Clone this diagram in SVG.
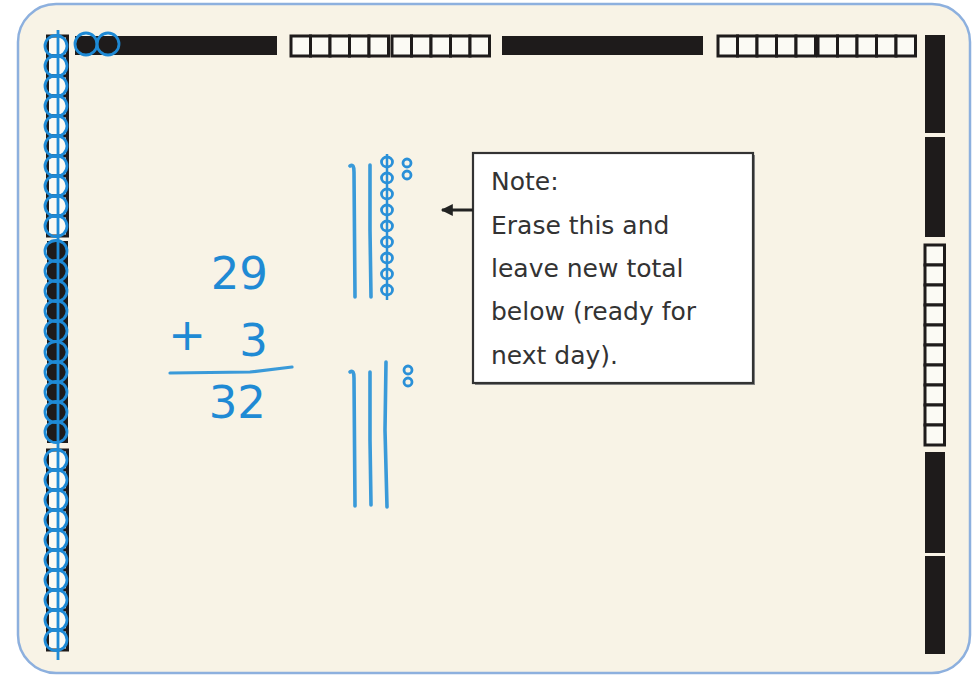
<svg xmlns="http://www.w3.org/2000/svg" xmlns:xlink="http://www.w3.org/1999/xlink" width="978" height="678" viewBox="0 0 978 678">
<style>
.frame{fill:#f8f3e6;stroke:#8db0de;stroke-width:2.5}
.blk{fill:#1e1b1b}
.wsq{fill:#fbfaf4;stroke:#1e1b1b;stroke-width:3}
.bc{fill:none;stroke:#1e8ad6;stroke-width:2.8}
.tally{fill:none;stroke:#3a9ad9;stroke-width:3.6;stroke-linecap:round}
.bead{fill:none;stroke:#2a90d8;stroke-width:2.8}
.num{font-family:"DejaVu Sans",sans-serif;fill:#1f8ad4;font-size:45px}
.note{font-family:"DejaVu Sans",sans-serif;fill:#333;font-size:25px}
</style>
<defs>
<ellipse id="c" rx="11" ry="10.5"/>
<marker id="ah" viewBox="0 0 10 10" refX="9" refY="5" markerWidth="13" markerHeight="12" markerUnits="userSpaceOnUse" orient="auto">
<path d="M0,0 L10,5 L0,10 Z" fill="#222"/>
</marker>
</defs>
<rect width="978" height="678" fill="#ffffff"/>
<rect id="board" class="frame" x="18" y="4" width="952" height="669" rx="38" ry="38"/>

<g id="top-strip">
<rect class="blk" x="75" y="36" width="202" height="19"/>
<rect class="wsq" x="291" y="36" width="19.5" height="20"/>
<rect class="wsq" x="310.5" y="36" width="19.5" height="20"/>
<rect class="wsq" x="330" y="36" width="19.5" height="20"/>
<rect class="wsq" x="349.5" y="36" width="19.5" height="20"/>
<rect class="wsq" x="369" y="36" width="19.5" height="20"/>
<rect class="wsq" x="392" y="36" width="19.5" height="20"/>
<rect class="wsq" x="411.5" y="36" width="19.5" height="20"/>
<rect class="wsq" x="431" y="36" width="19.5" height="20"/>
<rect class="wsq" x="450.5" y="36" width="19.5" height="20"/>
<rect class="wsq" x="470" y="36" width="19.5" height="20"/>
<rect class="blk" x="502" y="36" width="201" height="19"/>
<rect class="wsq" x="718" y="36" width="19.5" height="20"/>
<rect class="wsq" x="737.5" y="36" width="19.5" height="20"/>
<rect class="wsq" x="757" y="36" width="19.5" height="20"/>
<rect class="wsq" x="776.5" y="36" width="19.5" height="20"/>
<rect class="wsq" x="796" y="36" width="19.5" height="20"/>
<rect class="wsq" x="818" y="36" width="19.5" height="20"/>
<rect class="wsq" x="837.5" y="36" width="19.5" height="20"/>
<rect class="wsq" x="857" y="36" width="19.5" height="20"/>
<rect class="wsq" x="876.5" y="36" width="19.5" height="20"/>
<rect class="wsq" x="896" y="36" width="19.5" height="20"/>
<g class="bc">
<circle cx="86" cy="44" r="11"/>
<circle cx="108" cy="44" r="11"/>
</g>
</g>

<g id="right-strip">
<rect class="blk" x="925" y="35" width="20" height="98"/>
<rect class="blk" x="925" y="137" width="20" height="100"/>
<rect class="wsq" x="925" y="245" width="19.5" height="20"/>
<rect class="wsq" x="925" y="265" width="19.5" height="20"/>
<rect class="wsq" x="925" y="285" width="19.5" height="20"/>
<rect class="wsq" x="925" y="305" width="19.5" height="20"/>
<rect class="wsq" x="925" y="325" width="19.5" height="20"/>
<rect class="wsq" x="925" y="345" width="19.5" height="20"/>
<rect class="wsq" x="925" y="365" width="19.5" height="20"/>
<rect class="wsq" x="925" y="385" width="19.5" height="20"/>
<rect class="wsq" x="925" y="405" width="19.5" height="20"/>
<rect class="wsq" x="925" y="425" width="19.5" height="20"/>
<rect class="blk" x="925" y="452" width="20" height="101"/>
<rect class="blk" x="925" y="556" width="20" height="98"/>
</g>

<g id="left-strip">
<rect class="wsq" x="47.5" y="36" width="20" height="20"/>
<rect class="wsq" x="47.5" y="56" width="20" height="20"/>
<rect class="wsq" x="47.5" y="76" width="20" height="20"/>
<rect class="wsq" x="47.5" y="96" width="20" height="20"/>
<rect class="wsq" x="47.5" y="116" width="20" height="20"/>
<rect class="wsq" x="47.5" y="136" width="20" height="20"/>
<rect class="wsq" x="47.5" y="156" width="20" height="20"/>
<rect class="wsq" x="47.5" y="176" width="20" height="20"/>
<rect class="wsq" x="47.5" y="196" width="20" height="20"/>
<rect class="wsq" x="47.5" y="216" width="20" height="20"/>
<rect class="blk" x="47" y="241" width="21" height="202"/>
<rect class="wsq" x="47.5" y="450" width="20" height="20"/>
<rect class="wsq" x="47.5" y="470" width="20" height="20"/>
<rect class="wsq" x="47.5" y="490" width="20" height="20"/>
<rect class="wsq" x="47.5" y="510" width="20" height="20"/>
<rect class="wsq" x="47.5" y="530" width="20" height="20"/>
<rect class="wsq" x="47.5" y="550" width="20" height="20"/>
<rect class="wsq" x="47.5" y="570" width="20" height="20"/>
<rect class="wsq" x="47.5" y="590" width="20" height="20"/>
<rect class="wsq" x="47.5" y="610" width="20" height="20"/>
<rect class="wsq" x="47.5" y="630" width="20" height="20"/>
<g class="bc">
<line x1="58" y1="30" x2="58" y2="660"/>
<use href="#c" x="56" y="46"/><use href="#c" x="56" y="66"/><use href="#c" x="56" y="86"/><use href="#c" x="56" y="106"/><use href="#c" x="56" y="126"/>
<use href="#c" x="56" y="146"/><use href="#c" x="56" y="166"/><use href="#c" x="56" y="186"/><use href="#c" x="56" y="206"/><use href="#c" x="56" y="226"/>
<use href="#c" x="56" y="251"/><use href="#c" x="56" y="271"/><use href="#c" x="56" y="291"/><use href="#c" x="56" y="311"/><use href="#c" x="56" y="331"/>
<use href="#c" x="56" y="352"/><use href="#c" x="56" y="372"/><use href="#c" x="56" y="392"/><use href="#c" x="56" y="412"/><use href="#c" x="56" y="432"/>
<use href="#c" x="56" y="460"/><use href="#c" x="56" y="480"/><use href="#c" x="56" y="500"/><use href="#c" x="56" y="520"/><use href="#c" x="56" y="540"/>
<use href="#c" x="56" y="560"/><use href="#c" x="56" y="580"/><use href="#c" x="56" y="600"/><use href="#c" x="56" y="620"/><use href="#c" x="56" y="640"/>
</g>
</g>

<g id="sum">
<text class="num" x="268" y="289" text-anchor="end">29</text>
<text class="num" x="187" y="350" text-anchor="middle" font-size="36">+</text>
<text class="num" x="268" y="356" text-anchor="end">3</text>
<path d="M170 373 L250 372 L292 367" fill="none" stroke="#3a9ad9" stroke-width="3.2" stroke-linecap="round"/>
<text class="num" x="266" y="418" text-anchor="end">32</text>
</g>

<g id="tally-29">
<path class="tally" d="M350 166 Q354 163 354 172 L355 297"/>
<path class="tally" d="M370 165 L370 230 L371 297"/>
<line x1="387" y1="154" x2="387" y2="300" stroke="#2a90d8" stroke-width="2.5"/>
<g class="bead">
<ellipse cx="387" cy="162" rx="5.5" ry="5"/>
<ellipse cx="387" cy="178" rx="5.5" ry="5"/>
<ellipse cx="387" cy="194" rx="5.5" ry="5"/>
<ellipse cx="387" cy="210" rx="5.5" ry="5"/>
<ellipse cx="387" cy="226" rx="5.5" ry="5"/>
<ellipse cx="387" cy="242" rx="5.5" ry="5"/>
<ellipse cx="387" cy="258" rx="5.5" ry="5"/>
<ellipse cx="387" cy="274" rx="5.5" ry="5"/>
<ellipse cx="387" cy="290" rx="5.5" ry="5"/>
<ellipse cx="407" cy="163" rx="4" ry="4"/>
<ellipse cx="407" cy="175" rx="4" ry="4"/>
</g>
</g>

<g id="tally-32">
<path class="tally" d="M350 372 Q354 369 354 378 L355 506"/>
<path class="tally" d="M370 372 L370 440 L371 505"/>
<path class="tally" d="M386 362 L385 430 L387 507"/>
<g class="bead">
<ellipse cx="408" cy="370" rx="4" ry="4"/>
<ellipse cx="408" cy="382" rx="4" ry="4"/>
</g>
</g>

<g id="note">
<rect x="475" y="155" width="280" height="230" fill="#8a8a8a"/>
<rect x="473" y="153" width="280" height="230" fill="#ffffff" stroke="#333" stroke-width="2.2"/>
<text class="note" x="491" y="190">Note:</text>
<text class="note" x="491" y="234">Erase this and</text>
<text class="note" x="491" y="277">leave new total</text>
<text class="note" x="491" y="320">below (ready for</text>
<text class="note" x="491" y="364">next day).</text>
</g>

<g id="connectors">
<line x1="473" y1="210" x2="442" y2="210" stroke="#222" stroke-width="3" marker-end="url(#ah)"/>
</g>
</svg>
